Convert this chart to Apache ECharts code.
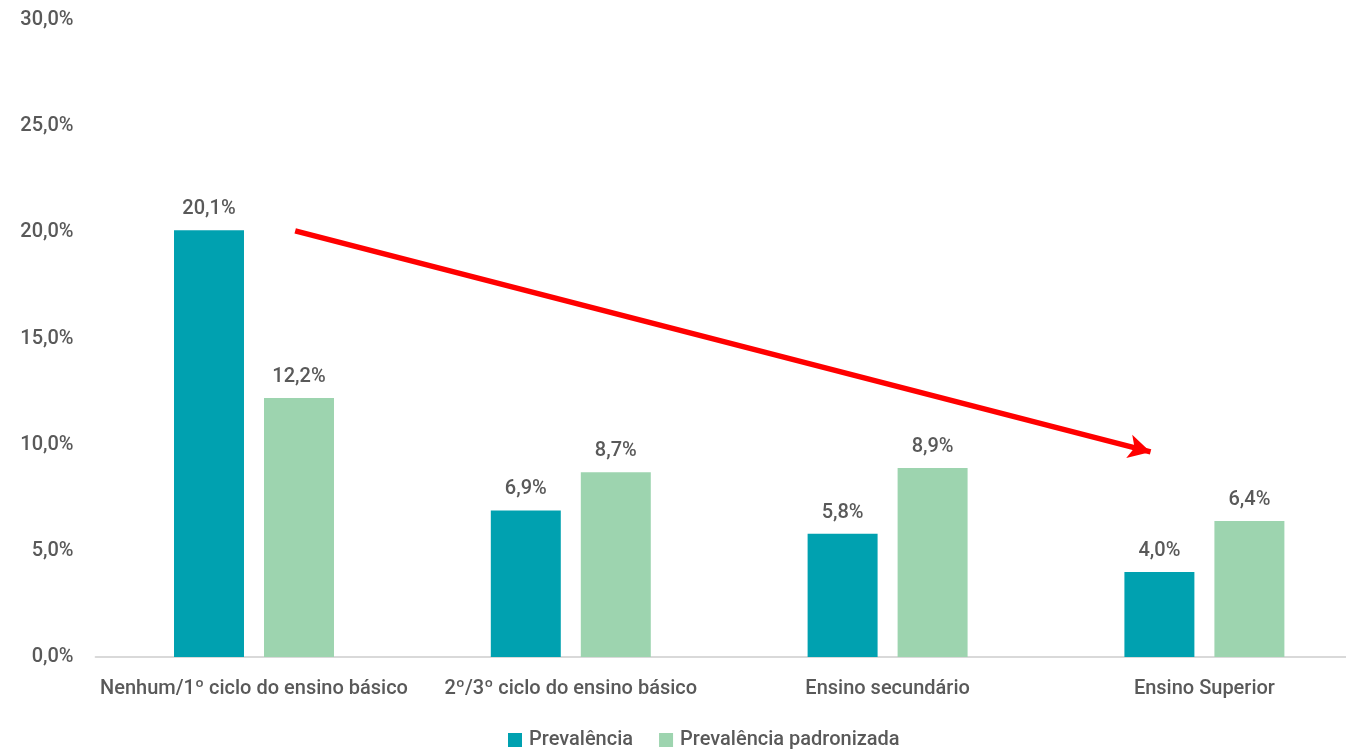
<!DOCTYPE html>
<html>
<head>
<meta charset="utf-8">
<script src="https://cdn.jsdelivr.net/npm/echarts@6/dist/echarts.min.js"></script>
<style>
html,body{margin:0;padding:0;background:#fff;overflow:hidden;width:1346px;height:752px;}
#chart{width:1380px;height:752px;}
</style>
</head>
<body>
<div id="chart"></div>
<script>
const categories = ['Nenhum/1º ciclo do ensino básico', '2º/3º ciclo do ensino básico', 'Ensino secundário', 'Ensino Superior'];
const seriesNames = ['Prevalência', 'Prevalência padronizada'];
const prevalencia = [20.1, 6.9, 5.8, 4.0];
const padronizada = [12.2, 8.7, 8.9, 6.4];
const yTicks = [0, 5, 10, 15, 20, 25, 30];
// trend arrow endpoints: [category position, value %]
const arrowStart = [0.13, 20.07];
const arrowEnd = [2.83, 9.66];

const FONT = "Roboto, 'Noto Sans', sans-serif";
const TXT = '#595959';
const TS = { fontFamily: FONT, fontWeight: 500, fontSize: 20, color: TXT };
const fmt = v => v.toFixed(1).replace('.', ',') + '%';

const chart = echarts.init(document.getElementById('chart'));
chart.setOption({
  animation: false,
  textStyle: TS,
  grid: { left: 95.6, top: 20, width: 1267.2, bottom: 95, containLabel: false },
  legend: {
    bottom: -3,
    left: 503,
    itemWidth: 14, itemHeight: 14, itemGap: 26,
    icon: 'rect',
    textStyle: Object.assign({}, TS, { padding: [0, 0, 0, 2] }),
    data: seriesNames
  },
  xAxis: [{
    type: 'category',
    data: categories,
    axisLine: { lineStyle: { color: '#D9D9D9', width: 2 } },
    axisTick: { show: false },
    axisLabel: Object.assign({}, TS, { margin: 22, interval: 0 })
  }, {
    type: 'value', min: -0.5, max: 3.5, show: false
  }],
  yAxis: {
    type: 'value', min: yTicks[0], max: yTicks[yTicks.length - 1], interval: 5,
    axisLine: { show: false }, axisTick: { show: false },
    splitLine: { show: false },
    axisLabel: Object.assign({}, TS, { margin: 22, formatter: v => fmt(v) })
  },
  series: [{
    name: seriesNames[0], type: 'bar', data: prevalencia,
    itemStyle: { color: '#00A1B0' },
    barGap: '28.6%', barCategoryGap: '49.5%',
    label: Object.assign({ show: true, position: 'top', distance: 11, formatter: p => fmt(p.value) }, TS)
  }, {
    name: seriesNames[1], type: 'bar', data: padronizada,
    itemStyle: { color: '#9DD4AF' },
    barGap: '28.6%', barCategoryGap: '49.5%',
    label: Object.assign({ show: true, position: 'top', distance: 11, formatter: p => fmt(p.value) }, TS)
  }, {
    type: 'line', xAxisIndex: 1, data: [], silent: true,
    markLine: {
      silent: true, symbol: ['none', 'arrow'], symbolSize: [18, 22],
      label: { show: false },
      lineStyle: { color: '#FF0000', width: 5.5, type: 'solid' },
      data: [[{ coord: arrowStart }, { coord: arrowEnd }]]
    }
  }]
});
</script>
</body>
</html>
